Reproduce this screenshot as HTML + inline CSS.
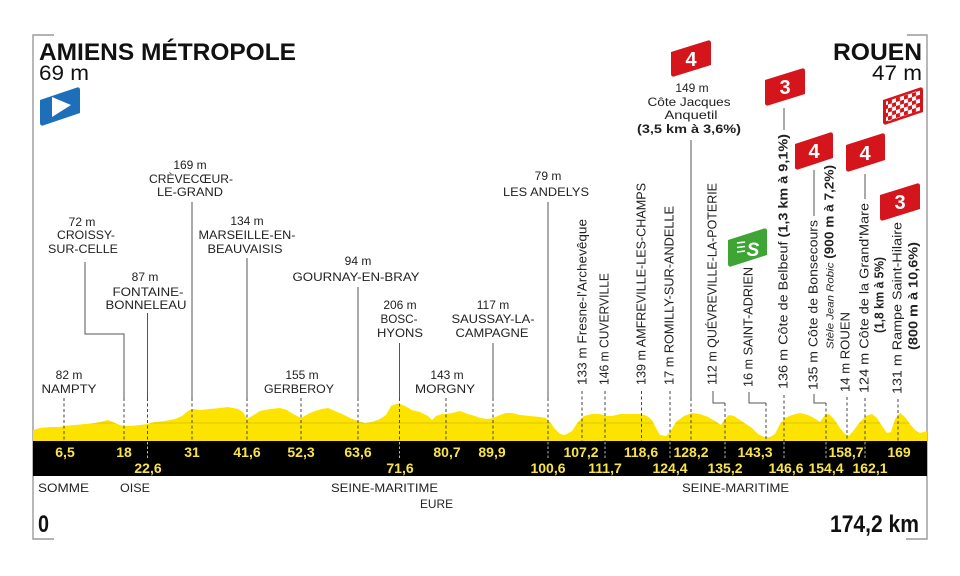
<!DOCTYPE html>
<html>
<head>
<meta charset="utf-8">
<style>
  html,body{margin:0;padding:0;background:#fff;}
  svg{display:block;}
  text{font-family:"Liberation Sans", sans-serif;}
</style>
</head>
<body>
<svg width="960" height="576" viewBox="0 0 960 576" xmlns="http://www.w3.org/2000/svg">
  <defs>
    <clipPath id="prof">
      <polygon points="33,430 40,428 50,427 60,427 64,426 75,425 85,424 95,423 100,422 108,420 115,423 120,425 124,426 130,426 140,425 147,424 155,422 165,421 175,419 182,416 188,411 192,409 200,410 210,409 220,408 228,407 238,409 243,412 247,419 252,416 260,411 270,409 280,408 287,410 293,414 301,418 308,414 315,411 322,409 328,408 335,411 342,414 350,418 358,421 365,423 372,422 380,419 386,415 391,406 396,404 400,404 405,406 412,410 420,412 428,416 432,420 436,416 442,414 446,414 452,413 460,411 468,414 475,416 480,418 487,419 493,418 500,415 506,413 512,413 520,415 530,416 540,417 546,418 550,422 555,429 560,434 565,435 572,431 578,422 584,416 592,414 600,414 606,416 612,416 620,414 630,414 640,414 647,416 652,420 656,428 660,435 666,436 670,432 676,422 684,416 692,413 700,414 708,417 715,421 721,425 725,419 729,415 734,416 740,420 746,424 752,428 758,434 764,437 770,437 775,434 780,424 785,418 792,415 800,413 808,415 814,418 820,422 825,415 829,414 834,419 840,428 845,434 849,436 854,430 860,422 866,416 872,414 877,418 882,426 887,433 891,432 895,419 900,413 905,417 910,424 915,430 920,433 927,431 927,441 33,441"/>
    </clipPath>
    <pattern id="chk" width="8" height="8" patternUnits="userSpaceOnUse" patternTransform="skewY(-17)">
      <rect x="0" y="0" width="4" height="4" fill="#fff"/>
      <rect x="4" y="4" width="4" height="4" fill="#fff"/>
    </pattern>
  </defs>

  <!-- frame -->
  <g fill="none" stroke="#9a9a9a" stroke-width="1.4">
    <path d="M54,35 H33 V539 H54"/>
    <path d="M907,35 H927 V539 H906"/>
  </g>

  <!-- profile -->
  <rect x="33" y="395" width="894" height="46" fill="#fce400" clip-path="url(#prof)"/>
  <line x1="33" y1="423" x2="927" y2="423" stroke="#dcc600" stroke-width="1" clip-path="url(#prof)"/>

  <!-- black bar -->
  <rect x="33" y="441" width="894" height="35" fill="#000"/>

  <!-- Titles -->
  <text x="39" y="60" font-size="24" font-weight="bold" fill="#111" textLength="257" lengthAdjust="spacingAndGlyphs">AMIENS MÉTROPOLE</text>
  <text x="39" y="80" font-size="21" fill="#111" textLength="50" lengthAdjust="spacingAndGlyphs">69 m</text>
  <text x="922" y="60" font-size="24" font-weight="bold" fill="#111" text-anchor="end" textLength="89" lengthAdjust="spacingAndGlyphs">ROUEN</text>
  <text x="922" y="80" font-size="21" fill="#111" text-anchor="end" textLength="50" lengthAdjust="spacingAndGlyphs">47 m</text>

  <!-- start flag -->
  <path d="M40,100 L77,87.5 Q80,87 80,90 L80,113 L43,125.5 Q40,126 40,123 Z" fill="#1e6fb9"/>
  <polygon points="52,97 52,117 71,105" fill="#fff"/>

  <!-- finish checkered flag -->
  <path d="M883,100 L920,87.5 Q923,87 923,90 L923,112 L886,124.5 Q883,125 883,122 Z" fill="#d4151c"/>
  <path d="M886,101.5 L920,90 L920,110.5 L886,122 Z" fill="url(#chk)"/>

  <!-- climb flags -->
  <g fill="#d4151c">
    <path d="M671,52 L708,40.5 Q711,40 711,43 L711,65 L674,76.5 Q671,77 671,74 Z"/>
    <path d="M765,80 L802,68.5 Q805,68 805,71 L805,94 L768,105.5 Q765,106 765,103 Z"/>
    <path d="M795,144 L830,132.5 Q833,132 833,135 L833,158 L798,169.5 Q795,170 795,167 Z"/>
    <path d="M846,145 L882,133.5 Q885,133 885,136 L885,160 L849,171.5 Q846,172 846,169 Z"/>
    <path d="M880,195 L917,183.5 Q920,183 920,186 L920,209 L883,220.5 Q880,221 880,218 Z"/>
  </g>
  <g fill="#fff" font-size="20" font-weight="bold" text-anchor="middle">
    <text x="691" y="66">4</text>
    <text x="785" y="94">3</text>
    <text x="814" y="158">4</text>
    <text x="865" y="160">4</text>
    <text x="900" y="209">3</text>
  </g>

  <!-- sprint flag -->
  <path d="M728,240 L764,228.5 Q767,228 767,231 L767,255 L731,266.5 Q728,267 728,264 Z" fill="#3ea535"/>
  <g stroke="#fff" stroke-width="1.6">
    <line x1="737" y1="243" x2="745" y2="242"/>
    <line x1="737" y1="247.5" x2="745" y2="246.5"/>
    <line x1="737" y1="252" x2="745" y2="251"/>
  </g>
  <text x="753" y="256" font-size="19" font-weight="bold" font-style="italic" fill="#fff" text-anchor="middle">S</text>

  <!-- connector solid lines -->
  <g fill="none" stroke="#555" stroke-width="1">
    <path d="M85,262 V334 H124 V398"/>
    <path d="M147.5,313 V398"/>
    <path d="M192,202 V398"/>
    <path d="M247,258 V398"/>
    <path d="M358,287 V398"/>
    <path d="M399.5,343 V398"/>
    <path d="M493,343 V398"/>
    <path d="M548,202 V398"/>
    <path d="M691,140 V398"/>
    <path d="M784,108 V130"/>
    <path d="M814,170 V216"/>
    <path d="M865,174 V199"/>
    <path d="M713,391 V403 H725"/>
    <path d="M749,392 V403 H766"/>
    <path d="M814,394 V403 H826"/>
  </g>

  <!-- dashed lines into profile -->
  <g fill="none" stroke="#444" stroke-width="1" stroke-dasharray="3,2.5">
    <path d="M64,398 V441"/>
    <path d="M124,398 V441"/>
    <path d="M147.5,398 V441"/>
    <path d="M192,398 V441"/>
    <path d="M247,398 V441"/>
    <path d="M301,398 V441"/>
    <path d="M358,398 V441"/>
    <path d="M399.5,398 V441"/>
    <path d="M446,398 V441"/>
    <path d="M493,398 V441"/>
    <path d="M548,398 V441"/>
    <path d="M582,391 V441"/>
    <path d="M605,391 V441"/>
    <path d="M641.5,391 V441"/>
    <path d="M670,391 V441"/>
    <path d="M691,398 V441"/>
    <path d="M725,403 V441"/>
    <path d="M766,403 V441"/>
    <path d="M784,395 V441"/>
    <path d="M826,403 V441"/>
    <path d="M847,397 V441"/>
    <path d="M865,398 V441"/>
    <path d="M898,399 V441"/>
  </g>
  <!-- dashes inside bar for 2nd row -->
  <g fill="none" stroke="#b5b5b5" stroke-width="1" stroke-dasharray="2.5,2">
    <path d="M147.5,442 V459"/>
    <path d="M399.5,442 V459"/>
    <path d="M548,442 V459"/>
    <path d="M605,442 V459"/>
    <path d="M670,442 V459"/>
    <path d="M725,442 V459"/>
    <path d="M784,442 V459"/>
    <path d="M826,442 V459"/>
    <path d="M865,442 V459"/>
  </g>

  <!-- km labels -->
  <g fill="#f8e447" font-size="14" font-weight="bold" text-anchor="middle">
    <text x="65" y="457">6,5</text>
    <text x="124" y="457">18</text>
    <text x="192" y="457">31</text>
    <text x="247" y="457">41,6</text>
    <text x="301" y="457">52,3</text>
    <text x="358" y="457">63,6</text>
    <text x="447" y="457">80,7</text>
    <text x="492" y="457">89,9</text>
    <text x="581" y="457">107,2</text>
    <text x="641" y="457">118,6</text>
    <text x="691" y="457">128,2</text>
    <text x="755" y="457">143,3</text>
    <text x="846" y="457">158,7</text>
    <text x="899" y="457">169</text>

    <text x="148" y="473">22,6</text>
    <text x="400" y="473">71,6</text>
    <text x="548" y="473">100,6</text>
    <text x="605" y="473">111,7</text>
    <text x="670" y="473">124,4</text>
    <text x="725" y="473">135,2</text>
    <text x="786" y="473">146,6</text>
    <text x="826" y="473">154,4</text>
    <text x="870" y="473">162,1</text>
  </g>

  <!-- region labels -->
  <g fill="#222" font-size="12">
    <text x="38" y="492" textLength="51" lengthAdjust="spacingAndGlyphs">SOMME</text>
    <text x="120" y="492" textLength="30" lengthAdjust="spacingAndGlyphs">OISE</text>
    <text x="331" y="492" textLength="107" lengthAdjust="spacingAndGlyphs">SEINE-MARITIME</text>
    <text x="420" y="508" textLength="33" lengthAdjust="spacingAndGlyphs">EURE</text>
    <text x="682" y="492" textLength="107" lengthAdjust="spacingAndGlyphs">SEINE-MARITIME</text>
  </g>

  <!-- distance -->
  <text x="38" y="532" font-size="24" font-weight="bold" fill="#111" textLength="11" lengthAdjust="spacingAndGlyphs">0</text>
  <text x="919" y="532" font-size="24" font-weight="bold" fill="#111" text-anchor="end" textLength="89" lengthAdjust="spacingAndGlyphs">174,2 km</text>

  <!-- horizontal labels -->
  <g fill="#222" font-size="12" text-anchor="middle">
    <text x="69" y="379">82 m</text>
    <text x="69" y="393" textLength="55" lengthAdjust="spacingAndGlyphs">NAMPTY</text>

    <text x="82" y="226">72 m</text>
    <text x="86" y="239" textLength="58" lengthAdjust="spacingAndGlyphs">CROISSY-</text>
    <text x="83" y="253" textLength="70" lengthAdjust="spacingAndGlyphs">SUR-CELLE</text>

    <text x="145" y="281">87 m</text>
    <text x="148" y="296" textLength="71" lengthAdjust="spacingAndGlyphs">FONTAINE-</text>
    <text x="146" y="309" textLength="81" lengthAdjust="spacingAndGlyphs">BONNELEAU</text>

    <text x="190" y="169">169 m</text>
    <text x="191" y="183" textLength="84" lengthAdjust="spacingAndGlyphs">CRÈVECŒUR-</text>
    <text x="190" y="196" textLength="66" lengthAdjust="spacingAndGlyphs">LE-GRAND</text>

    <text x="247" y="225">134 m</text>
    <text x="247" y="239" textLength="97" lengthAdjust="spacingAndGlyphs">MARSEILLE-EN-</text>
    <text x="245" y="253" textLength="75" lengthAdjust="spacingAndGlyphs">BEAUVAISIS</text>

    <text x="302" y="379">155 m</text>
    <text x="299" y="393" textLength="70" lengthAdjust="spacingAndGlyphs">GERBEROY</text>

    <text x="358" y="265">94 m</text>
    <text x="356" y="281" textLength="127" lengthAdjust="spacingAndGlyphs">GOURNAY-EN-BRAY</text>

    <text x="400" y="309">206 m</text>
    <text x="399" y="323" textLength="37" lengthAdjust="spacingAndGlyphs">BOSC-</text>
    <text x="400" y="337" textLength="46" lengthAdjust="spacingAndGlyphs">HYONS</text>

    <text x="447" y="379">143 m</text>
    <text x="445" y="393" textLength="60" lengthAdjust="spacingAndGlyphs">MORGNY</text>

    <text x="493" y="309">117 m</text>
    <text x="493" y="323" textLength="83" lengthAdjust="spacingAndGlyphs">SAUSSAY-LA-</text>
    <text x="492" y="337" textLength="73" lengthAdjust="spacingAndGlyphs">CAMPAGNE</text>

    <text x="548" y="180">79 m</text>
    <text x="546" y="196" textLength="86" lengthAdjust="spacingAndGlyphs">LES ANDELYS</text>

    <text x="692" y="92">149 m</text>
    <text x="689" y="106" textLength="83" lengthAdjust="spacingAndGlyphs">Côte Jacques</text>
    <text x="691" y="119" textLength="53" lengthAdjust="spacingAndGlyphs">Anquetil</text>
    <text x="689" y="133" font-weight="bold" textLength="104" lengthAdjust="spacingAndGlyphs">(3,5 km à 3,6%)</text>
  </g>

  <!-- vertical labels -->
  <g fill="#222" font-size="12.5">
    <text transform="translate(586.3,385) rotate(-90)" textLength="166" lengthAdjust="spacingAndGlyphs">133 m Fresne-l'Archevêque</text>
    <text transform="translate(608.3,385) rotate(-90)" textLength="112" lengthAdjust="spacingAndGlyphs">146 m CUVERVILLE</text>
    <text transform="translate(645.3,385) rotate(-90)" textLength="202" lengthAdjust="spacingAndGlyphs">139 m AMFREVILLE-LES-CHAMPS</text>
    <text transform="translate(673.3,385) rotate(-90)" textLength="179" lengthAdjust="spacingAndGlyphs">17 m ROMILLY-SUR-ANDELLE</text>
    <text transform="translate(716.3,385) rotate(-90)" textLength="202" lengthAdjust="spacingAndGlyphs">112 m QUÉVREVILLE-LA-POTERIE</text>
    <text transform="translate(752.3,387) rotate(-90)" textLength="120" lengthAdjust="spacingAndGlyphs">16 m SAINT-ADRIEN</text>
    <text transform="translate(787.3,389) rotate(-90)" textLength="255" lengthAdjust="spacingAndGlyphs">136 m Côte de Belbeuf <tspan font-weight="bold">(1,3 km à 9,1%)</tspan></text>
    <text transform="translate(817.3,390) rotate(-90)" textLength="170" lengthAdjust="spacingAndGlyphs">135 m Côte de Bonsecours</text>
    <text transform="translate(833.3,349) rotate(-90)" textLength="184" lengthAdjust="spacingAndGlyphs"><tspan font-style="italic" font-size="10.5">Stèle Jean Robic</tspan> <tspan font-weight="bold">(900 m à 7,2%)</tspan></text>
    <text transform="translate(849.3,392) rotate(-90)" textLength="80" lengthAdjust="spacingAndGlyphs">14 m ROUEN</text>
    <text transform="translate(868.3,393) rotate(-90)" textLength="190" lengthAdjust="spacingAndGlyphs">124 m Côte de la Grand'Mare</text>
    <text transform="translate(883.3,333) rotate(-90)" font-weight="bold" textLength="76" lengthAdjust="spacingAndGlyphs">(1,8 km à 5%)</text>
    <text transform="translate(901.3,394) rotate(-90)" textLength="172" lengthAdjust="spacingAndGlyphs">131 m Rampe Saint-Hilaire</text>
    <text transform="translate(917.3,350) rotate(-90)" font-weight="bold" textLength="108" lengthAdjust="spacingAndGlyphs">(800 m à 10,6%)</text>
  </g>
</svg>
</body>
</html>
